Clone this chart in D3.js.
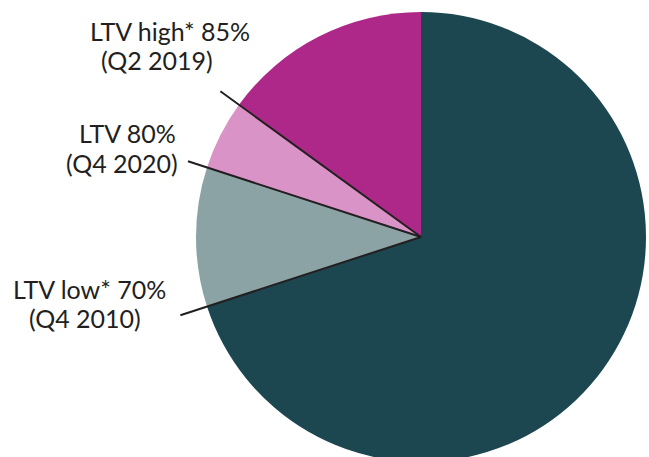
<!DOCTYPE html>
<html>
<head>
<meta charset="utf-8">
<script src="https://cdn.jsdelivr.net/npm/d3@7"></script>
<style>
  html, body { margin: 0; padding: 0; background: #ffffff; }
  svg { display: block; }
</style>
</head>
<body>
<svg id="chart" width="649" height="457"></svg>
<script>
// Data
const categories = ["Other", "LTV low* 70% (Q4 2010)", "LTV 80% (Q4 2020)", "LTV high* 85% (Q2 2019)"];
const values = [70, 10, 5, 15];
const colors = ["#1d4750", "#8ba3a4", "#d993c6", "#ae288a"];
const labelLines = [
  null,
  ["LTV low* 70%", "(Q4 2010)"],
  ["LTV 80%", "(Q4 2020)"],
  ["LTV high* 85%", "(Q2 2019)"]
];

const W = 649, H = 457;
const cx = 421, cy = 237, R = 225;

const svg = d3.select("#chart");
const g = svg.append("g").attr("transform", `translate(${cx},${cy})`);

const pie = d3.pie().sort(null).value(d => d).startAngle(0).endAngle(2 * Math.PI);
const arcs = pie(values);
const arc = d3.arc().innerRadius(0).outerRadius(R);

g.selectAll("path.slice")
  .data(arcs)
  .join("path")
  .attr("class", "slice")
  .attr("d", arc)
  .attr("fill", (d, i) => colors[i]);

// Leader lines along slice start angles
const leaderLen = [0, 253, 245, 248];
// Label placement (layout only)
const labelPos = [
  null,
  [{x: 13, y: 299}, {x: 29, y: 328}],
  [{x: 79, y: 143}, {x: 66, y: 173}],
  [{x: 90, y: 41}, {x: 101, y: 70}]
];

arcs.forEach((d, i) => {
  if (!labelLines[i]) return;
  const a = d.startAngle;
  const L = leaderLen[i];
  g.append("line")
    .attr("x1", 0).attr("y1", 0)
    .attr("x2", L * Math.sin(a)).attr("y2", -L * Math.cos(a))
    .attr("stroke", "#231f20")
    .attr("stroke-width", 2);
  labelLines[i].forEach((t, j) => {
    svg.append("text")
      .attr("x", labelPos[i][j].x)
      .attr("y", labelPos[i][j].y)
      .attr("font-family", "Lato, 'Open Sans', sans-serif")
      .attr("font-size", 25)
      .attr("fill", "#231f20")
      .text(t);
  });
});
</script>
</body>
</html>
